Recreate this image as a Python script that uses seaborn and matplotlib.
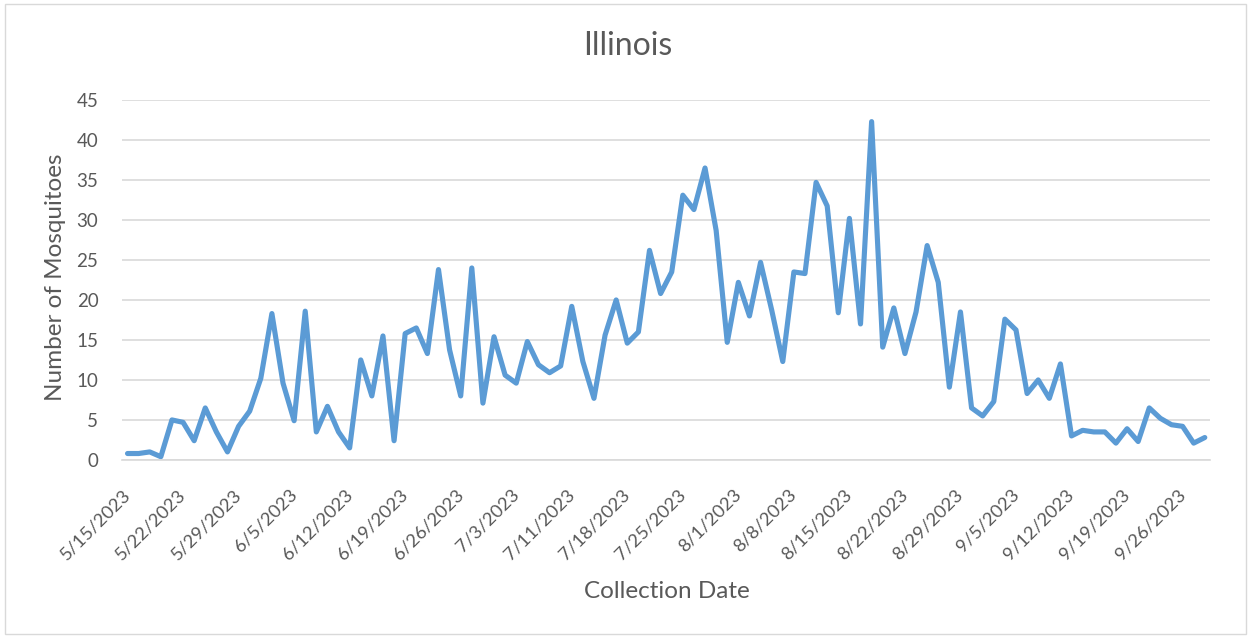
import numpy as np
import pandas as pd
import seaborn as sns
import matplotlib.pyplot as plt
from matplotlib.patches import Rectangle

# Collection dates (weekdays, no 7/4)
dates = [
    '5/15/2023', '5/16/2023', '5/17/2023', '5/18/2023', '5/19/2023',
    '5/22/2023', '5/23/2023', '5/24/2023', '5/25/2023', '5/26/2023',
    '5/29/2023', '5/30/2023', '5/31/2023', '6/1/2023', '6/2/2023',
    '6/5/2023', '6/6/2023', '6/7/2023', '6/8/2023', '6/9/2023',
    '6/12/2023', '6/13/2023', '6/14/2023', '6/15/2023', '6/16/2023',
    '6/19/2023', '6/20/2023', '6/21/2023', '6/22/2023', '6/23/2023',
    '6/26/2023', '6/27/2023', '6/28/2023', '6/29/2023', '6/30/2023',
    '7/3/2023', '7/5/2023', '7/6/2023', '7/7/2023',
    '7/10/2023', '7/11/2023', '7/12/2023', '7/13/2023', '7/14/2023',
    '7/17/2023', '7/18/2023', '7/19/2023', '7/20/2023', '7/21/2023',
    '7/24/2023', '7/25/2023', '7/26/2023', '7/27/2023', '7/28/2023',
    '7/31/2023', '8/1/2023', '8/2/2023', '8/3/2023', '8/4/2023',
    '8/7/2023', '8/8/2023', '8/9/2023', '8/10/2023', '8/11/2023',
    '8/14/2023', '8/15/2023', '8/16/2023', '8/17/2023', '8/18/2023',
    '8/21/2023', '8/22/2023', '8/23/2023', '8/24/2023', '8/25/2023',
    '8/28/2023', '8/29/2023', '8/30/2023', '8/31/2023', '9/1/2023',
    '9/4/2023', '9/5/2023', '9/6/2023', '9/7/2023', '9/8/2023',
    '9/11/2023', '9/12/2023', '9/13/2023', '9/14/2023', '9/15/2023',
    '9/18/2023', '9/19/2023', '9/20/2023', '9/21/2023', '9/22/2023',
    '9/25/2023', '9/26/2023', '9/27/2023', '9/28/2023',
]

# Number of mosquitoes per collection date
mosquitoes = [
    0.8, 0.8, 1.0, 0.4, 5.0, 4.7, 2.4, 6.5, 3.5, 1.0,
    4.2, 6.1, 10.2, 18.3, 9.6, 4.9, 18.6, 3.5, 6.7, 3.5,
    1.5, 12.5, 8.0, 15.5, 2.4, 15.8, 16.5, 13.3, 23.8, 13.75,
    8.0, 24.0, 7.1, 15.4, 10.6, 9.6, 14.8, 11.9, 10.9, 11.75,
    19.2, 12.3, 7.7, 15.6, 20.0, 14.6, 16.0, 26.2, 20.8, 23.5,
    33.1, 31.3, 36.5, 28.7, 14.7, 22.2, 18.0, 24.7, 18.75, 12.3,
    23.5, 23.3, 34.7, 31.75, 18.4, 30.2, 17.0, 42.3, 14.1, 19.0,
    13.3, 18.5, 26.8, 22.2, 9.1, 18.5, 6.5, 5.5, 7.3, 17.6,
    16.25, 8.3, 10.0, 7.7, 12.0, 3.0, 3.7, 3.5, 3.5, 2.1,
    3.9, 2.3, 6.5, 5.2, 4.4, 4.2, 2.1, 2.8,
]

y_ticks = [0, 5, 10, 15, 20, 25, 30, 35, 40, 45]

df = pd.DataFrame({'Collection Date': dates, 'Number of Mosquitoes': mosquitoes})

sns.set_style('white')
plt.rcParams['font.family'] = ['Lato', 'DejaVu Sans']
txt = '#595959'

fig = plt.figure(figsize=(12.51, 6.37), dpi=100)
ax = fig.add_axes([0.0975, 0.278, 0.870, 0.565])

sns.lineplot(data=df, x='Collection Date', y='Number of Mosquitoes', sort=False,
             color='#5B9BD5', linewidth=3.7, ax=ax)
ax.lines[0].set_solid_joinstyle('round')
ax.lines[0].set_solid_capstyle('round')

ax.set_xlim(-0.5, len(dates) - 0.5)
ax.set_ylim(0, 45)
ax.set_yticks(y_ticks)
ax.yaxis.grid(True, color='#D9D9D9', linewidth=1.2)
ax.set_axisbelow(True)
for s in ['top', 'right', 'left']:
    ax.spines[s].set_visible(False)
ax.spines['bottom'].set_color('#D9D9D9')
ax.spines['bottom'].set_linewidth(1.2)

pos = list(range(0, len(dates), 5))
ax.set_xticks(pos)
ax.set_xticklabels([dates[i] for i in pos], rotation=45, ha='right',
                   va='center', rotation_mode='anchor')
ax.tick_params(axis='x', length=0, pad=23, labelsize=13.3, labelcolor=txt)
ax.tick_params(axis='y', length=0, pad=17, labelsize=13.5, labelcolor=txt)

# axis titles and chart title, placed like the original
ax.set_xlabel('')
ax.set_ylabel('')
fig.text(667 / 1251, 1 - 592 / 637, 'Collection Date', fontsize=17.5, color=txt,
         ha='center', va='center')
fig.text(55 / 1251, 1 - 277 / 637, 'Number of Mosquitoes', fontsize=17.5, color=txt,
         ha='center', va='center', rotation=90)
fig.text(628 / 1251, 1 - 46 / 637, 'Illinois', fontsize=23, color=txt,
         ha='center', va='center')

fig.patches.append(Rectangle((0.004, 0.004), 0.992, 0.99, transform=fig.transFigure,
                             fill=False, edgecolor='#D9D9D9', linewidth=1))

fig.savefig('out.png', dpi=100)
